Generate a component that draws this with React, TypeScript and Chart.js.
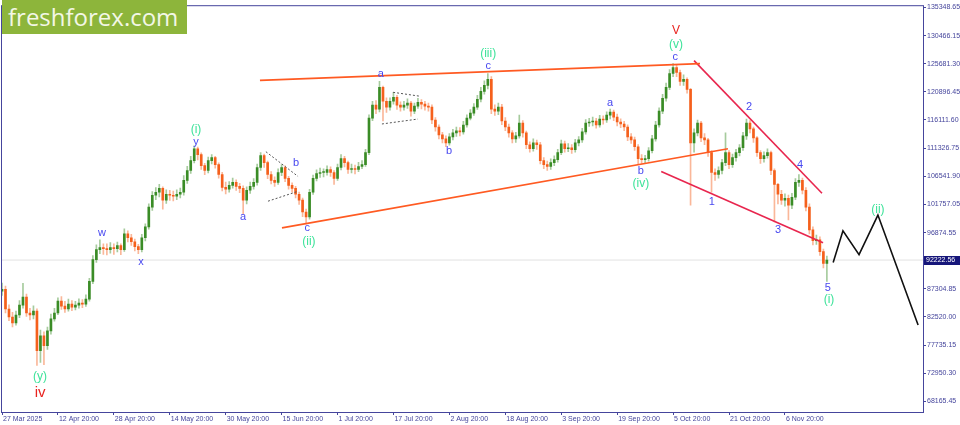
import React, { useEffect, useRef } from "react";
import { Chart, registerables } from "chart.js";
Chart.register(...registerables);

// ---- data (daily candles from 27 Mar 2025 20:00, x = days) ----
const firstOpen = 86900;
const closes = [
  87240, 83870, 82510, 81500, 82850, 84540, 85890, 83190, 82850, 83530,
  76780, 79310, 77620, 80150, 82180, 83190, 85220, 84370, 83870, 84710,
  84200, 84540, 84880, 84710, 85550, 88590, 92300, 93990, 94330, 94160,
  93990, 94330, 94160, 94670, 93990, 96690, 96020, 95340, 94500, 93990,
  96020, 97880, 101250, 103280, 103780, 104460, 102430, 103450, 103280, 103110,
  103450, 103780, 105810, 107500, 109190, 111210, 110200, 108340, 107500, 109190,
  109690, 108510, 106820, 104630, 104290, 104970, 105470, 104800, 104460, 102430,
  104120, 104800, 105470, 108000, 110030, 108850, 106820, 105810, 105470, 107160,
  108000, 106150, 104970, 104460, 103450, 102430, 100410, 99560, 103780, 106150,
  106990, 107160, 107160, 107670, 107160, 106150, 108000, 109520, 108850, 107670,
  107830, 107670, 108170, 108510, 110540, 116440, 118640, 117960, 121680, 119310,
  118300, 119310, 119990, 118640, 118300, 118640, 118980, 117630, 118470, 119140,
  118810, 118470, 118300, 116110, 114920, 113570, 112900, 112220, 113240, 113910,
  114250, 114080, 115260, 116440, 117290, 118300, 119650, 121000, 122010, 123030,
  117960, 117630, 118300, 115940, 114920, 113910, 112900, 113400, 115600, 113910,
  111880, 111210, 112220, 111880, 109190, 108510, 108170, 108850, 109350, 110540,
  112050, 111210, 111380, 111040, 112220, 112730, 114080, 115600, 115770, 115940,
  115260, 116270, 116110, 116950, 117460, 116610, 115770, 115430, 114920, 113240,
  112730, 111550, 109520, 109350, 109520, 110870, 112900, 115260, 117630, 119820,
  121680, 124040, 125050, 124210, 122690, 123030, 121340, 112220, 113910, 115600,
  113070, 112730, 110540, 107160, 106820, 107500, 108850, 110540, 108510, 109690,
  110540, 111380, 113400, 115600, 114590, 113070, 110540, 109520, 110030, 110540,
  107500, 105130, 103450, 102430, 102770, 101590, 102940, 105470, 105810, 104120,
  101250, 97370, 95510, 95680, 93660, 91630, 92222.56,
];
const highs = [
  88300, 87800, 84600, 83300, 83500, 85300, 88250, 86400, 84000, 84400,
  83900, 80300, 80000, 80800, 83000, 84000, 85800, 86000, 85200, 85550,
  85300, 85200, 85600, 85500, 86300, 89100, 93000, 94800, 95680, 95000,
  95000, 95200, 95000, 95300, 95000, 97540, 97200, 96600, 95800, 94900,
  96600, 98400, 101800, 103900, 104600, 105130, 104700, 104200, 104100, 104000,
  104200, 104500, 106650, 108200, 109900, 111720, 111500, 110500, 108700, 109800,
  110200, 109900, 108800, 107200, 105500, 105600, 106200, 105900, 105300, 104900,
  104700, 105500, 106100, 108600, 110540, 110300, 109100, 107300, 106400, 107800,
  108510, 108300, 106500, 105400, 104800, 103800, 102800, 100900, 104300, 106700,
  107600, 107900, 107800, 108300, 108100, 107500, 108600, 110200, 109900, 109100,
  108600, 108400, 108900, 109200, 111100, 117000, 119300, 119400, 122690, 121900,
  119900, 119900, 120830, 120300, 119200, 119300, 119700, 119300, 119000, 119820,
  119600, 119300, 119000, 118700, 116500, 115300, 114000, 113400, 113800, 114500,
  114900, 114800, 115900, 117000, 117900, 118900, 120300, 121700, 122800, 124040,
  123500, 118700, 119000, 118800, 116500, 115400, 114300, 114000, 116950, 116000,
  114200, 112400, 112900, 112700, 112300, 109700, 109100, 109500, 110000, 111100,
  112700, 112500, 112100, 111900, 112800, 113300, 114700, 116200, 116400, 116600,
  116400, 116900, 116800, 117500, 117960, 117800, 117100, 116300, 115900, 115300,
  113800, 113200, 111900, 110200, 110100, 111400, 113500, 115900, 118200, 120500,
  122400, 124700, 125730, 125500, 124600, 123800, 123300, 121500, 114600, 116100,
  115900, 113800, 113000, 110900, 107800, 108100, 109400, 113910, 110900, 110300,
  111100, 111900, 114000, 116270, 116000, 114900, 113300, 110900, 110700, 111200,
  110800, 107800, 105300, 104100, 103500, 103300, 103600, 106100, 106820, 106200,
  104600, 101800, 97900, 96500, 96200, 94100, 92900,
];
const lows = [
  86200, 83200, 81900, 80800, 81100, 82400, 84000, 82600, 82000, 82200,
  74240, 74750, 74400, 77000, 79600, 81800, 82900, 83800, 83300, 83500,
  83600, 83700, 84000, 84100, 84300, 85200, 88200, 91800, 93300, 93200,
  93100, 93400, 93200, 93600, 93150, 93700, 95300, 94700, 93800, 93320,
  93600, 95500, 97500, 100700, 102500, 103000, 100920, 101900, 102400, 102300,
  102500, 102800, 103300, 105300, 107000, 108800, 109300, 107700, 106800, 107100,
  108600, 107900, 106200, 104000, 103500, 103800, 104500, 104100, 103700, 100070,
  101800, 103600, 104300, 105000, 107500, 108000, 106100, 105200, 104800, 105100,
  106600, 105600, 104300, 103800, 102800, 101700, 99600, 98380, 99200, 103400,
  105700, 106300, 106400, 106700, 106500, 105130, 105800, 107600, 108100, 107000,
  107100, 106900, 107300, 107800, 108200, 110200, 116000, 117200, 117500, 115940,
  117400, 117800, 118800, 117900, 117600, 117800, 118100, 116780, 117200, 118100,
  118000, 117800, 117600, 115500, 114200, 112900, 112200, 111550, 111800, 112700,
  113300, 113400, 113700, 114900, 116100, 116900, 117900, 119200, 120500, 121400,
  117200, 116900, 117000, 115300, 114300, 113200, 112200, 112300, 113000, 113200,
  111200, 110600, 110800, 111100, 108600, 107800, 107500, 107700, 108300, 108900,
  110200, 110600, 110700, 110400, 110600, 111700, 112300, 113700, 115000, 115100,
  114700, 114900, 115400, 115700, 116300, 116000, 115100, 114800, 114300, 112600,
  112100, 110900, 108510, 108700, 108800, 109100, 110500, 112500, 114900, 117200,
  119300, 121300, 123500, 123500, 122000, 122000, 120700, 101590, 110600, 113400,
  112400, 111900, 109900, 103780, 105800, 106200, 106900, 108300, 107800, 108000,
  109100, 110000, 110900, 112800, 113900, 112300, 109900, 108700, 108900, 109600,
  106800, 98720, 101800, 101700, 101400, 99060, 101000, 102500, 104800, 103500,
  100600, 96700, 94800, 94900, 93000, 90900, 88590,
];
const lastPrice = 92222.56;

const xTickDays = [0, 16, 32, 48, 64, 80, 96, 112, 128, 144, 160, 176, 192, 208, 224];
const xTickLabels = [
  "27 Mar 2025", "12 Apr 20:00", "28 Apr 20:00", "14 May 20:00", "30 May 20:00",
  "15 Jun 20:00", "1 Jul 20:00", "17 Jul 20:00", "2 Aug 20:00", "18 Aug 20:00",
  "3 Sep 20:00", "19 Sep 20:00", "5 Oct 20:00", "21 Oct 20:00", "6 Nov 20:00",
];
const yTickValues = [
  135348.65, 130466.15, 125681.3, 120896.45, 116111.6, 111326.75, 106541.9,
  101757.05, 96874.55, 87304.85, 82520.0, 77735.15, 72950.3, 68165.45,
];

// wave labels: text, day, price, style
const waveLabels = [
  { t: "w", d: 28.6, p: 96860, s: "b" },
  { t: "x", d: 39.8, p: 91970, s: "b" },
  { t: "y", d: 55.5, p: 112390, s: "b" },
  { t: "a", d: 69.0, p: 99560, s: "b" },
  { t: "b", d: 84.1, p: 108850, s: "b" },
  { t: "c", d: 87.3, p: 97710, s: "b" },
  { t: "a", d: 108.4, p: 124040, s: "b" },
  { t: "b", d: 127.9, p: 110870, s: "b" },
  { t: "c", d: 139.1, p: 125390, s: "b" },
  { t: "a", d: 174.0, p: 118980, s: "b" },
  { t: "b", d: 182.8, p: 107500, s: "b" },
  { t: "c", d: 192.6, p: 126910, s: "b" },
  { t: "1", d: 203.1, p: 102100, s: "b" },
  { t: "2", d: 213.7, p: 118300, s: "b" },
  { t: "3", d: 222.0, p: 97370, s: "b" },
  { t: "4", d: 228.3, p: 108510, s: "b" },
  { t: "5", d: 236.3, p: 87410, s: "b" },
  { t: "(y)", d: 10.9, p: 72390, s: "g" },
  { t: "(i)", d: 55.5, p: 114420, s: "g" },
  { t: "(ii)", d: 87.8, p: 95340, s: "g" },
  { t: "(iii)", d: 139.1, p: 127420, s: "g" },
  { t: "(iv)", d: 182.8, p: 105300, s: "g" },
  { t: "(v)", d: 192.8, p: 128930, s: "g" },
  { t: "(i)", d: 236.6, p: 85380, s: "g" },
  { t: "(ii)", d: 250.6, p: 100750, s: "g" },
  { t: "iv", d: 10.9, p: 69520, s: "r" },
  { t: "V", d: 192.8, p: 131300, s: "R" },
];

// drawn lines: [day, price] pairs
const upperOrange = [[73.8, 122860], [199.7, 125730]];
const lowerOrange = [[80.1, 97710], [207.7, 111210]];
const redUpper = [[198.0, 126230], [234.6, 103610]];
const redLower = [[188.6, 107330], [234.9, 95170]];
const projection = [[237.8, 91800], [240.6, 97200], [245.2, 93150], [250.6, 99900], [262.1, 81160]];
const triangleA1 = [[75.5, 110700], [84.7, 106480]];
const triangleA2 = [[76.1, 102260], [84.7, 103950]];
const triangleB1 = [[111.9, 120830], [119.6, 120160]];
const triangleB2 = [[108.7, 115430], [119.0, 116270]];

const AXIS = "#45459c";
const BULL = "#3a8c26";
const BEAR = "#f5601c";
const BULL_W = "rgba(58,140,38,0.45)";
const BEAR_W = "rgba(245,96,28,0.45)";

export default function App() {
  const ref = useRef<HTMLCanvasElement>(null);
  useEffect(() => {
    document.body.style.margin = "0";
    const canvas = ref.current;
    if (!canvas) return;
    Chart.defaults.font.family = "'Liberation Sans', Arial, sans-serif";
    const opens = closes.map((c, i) => (i === 0 ? firstOpen : closes[i - 1]));
    const bull = closes.map((c, i) => c >= opens[i]);
    const bodies = closes.map((c, i) => ({ x: i, y: [opens[i], c] }));
    const wicks = closes.map((c, i) => ({
      x: i,
      y: [Math.min(lows[i], opens[i], c), Math.max(highs[i], opens[i], c)],
    }));
    const pts = (a: number[][]) => a.map(([d, p]) => ({ x: d, y: p }));
    const lineDs = (a: number[][], color: string, w: number, dash: number[] = []) => ({
      type: "line" as const,
      data: pts(a),
      borderColor: color,
      borderWidth: w,
      borderDash: dash,
      pointRadius: 0,
      fill: false,
      tension: 0,
      order: 0,
    });

    const overlay = {
      id: "overlay",
      afterDatasetsDraw(chart: any) {
        const { ctx, scales } = chart;
        const xs = scales.x, ys = scales.y;
        ctx.save();
        ctx.textAlign = "center";
        ctx.textBaseline = "middle";
        for (const l of waveLabels) {
          if (l.s === "b") { ctx.font = "11px 'Liberation Sans'"; ctx.fillStyle = "#4848f0"; }
          else if (l.s === "g") { ctx.font = "12px 'Liberation Sans'"; ctx.fillStyle = "#3ee39a"; }
          else if (l.s === "r") { ctx.font = "15px 'Liberation Sans'"; ctx.fillStyle = "#e8231f"; }
          else { ctx.font = "12px 'Liberation Sans'"; ctx.fillStyle = "#e8231f"; }
          ctx.fillText(l.t, xs.getPixelForValue(l.d), ys.getPixelForValue(l.p));
        }
        ctx.restore();
      },
      afterDraw(chart: any) {
        const { ctx, chartArea: a, scales } = chart;
        ctx.save();
        ctx.strokeStyle = AXIS;
        ctx.lineWidth = 1;
        ctx.strokeRect(a.left - 0.5, a.top + 0.5, a.right - a.left + 1, a.bottom - a.top);
        const py = Math.round(scales.y.getPixelForValue(lastPrice));
        ctx.fillStyle = "#16167a";
        ctx.fillRect(a.right + 1, py - 4, 40, 9);
        ctx.fillStyle = "#ffffff";
        ctx.font = "7px 'Liberation Sans'";
        ctx.textAlign = "left";
        ctx.textBaseline = "middle";
        ctx.fillText(lastPrice.toFixed(2), a.right + 3, py + 0.5);
        ctx.restore();
      },
    };

    const chart = new Chart(canvas, {
      type: "bar",
      data: {
        datasets: [
          lineDs(upperOrange, "#ff5a22", 1.6),
          lineDs(lowerOrange, "#ff5a22", 1.6),
          lineDs(redUpper, "#e8264e", 1.6),
          lineDs(redLower, "#e8264e", 1.6),
          lineDs(projection, "#111111", 1.6),
          lineDs(triangleA1, "#555555", 1, [2, 2]),
          lineDs(triangleA2, "#555555", 1, [2, 2]),
          lineDs(triangleB1, "#555555", 1, [2, 2]),
          lineDs(triangleB2, "#555555", 1, [2, 2]),
          {
            type: "bar" as const,
            data: bodies as any,
            backgroundColor: bull.map((b) => (b ? BULL : BEAR)),
            barThickness: 2,
            minBarLength: 1,
            grouped: false,
            borderWidth: 0,
            order: 2,
          },
          {
            type: "bar" as const,
            data: wicks as any,
            backgroundColor: bull.map((b) => (b ? BULL_W : BEAR_W)),
            barThickness: 1,
            grouped: false,
            borderWidth: 0,
            order: 3,
          },
          {
            type: "line" as const,
            data: [{ x: 0, y: lastPrice }, { x: 263.5, y: lastPrice }],
            borderColor: "#e2e2e2",
            borderWidth: 1,
            pointRadius: 0,
            order: 10,
          },
        ] as any,
      },
      options: {
        responsive: false,
        animation: false,
        devicePixelRatio: 1,
        layout: { padding: { left: 2, top: 1, right: 0, bottom: 0 } },
        plugins: { legend: { display: false }, tooltip: { enabled: false } },
        scales: {
          x: {
            type: "linear",
            min: 0,
            max: 263.5,
            offset: false,
            border: { display: false },
            grid: { display: true, drawOnChartArea: false, drawTicks: true, tickLength: 3, color: AXIS, offset: false },
            ticks: {
              autoSkip: false,
              maxRotation: 0,
              align: "start",
              padding: 0,
              labelOffset: 1,
              color: AXIS,
              font: { size: 7 },
              callback: (_v: any, i: number) => xTickLabels[i],
            },
            afterBuildTicks: (s: any) => { s.ticks = xTickDays.map((v) => ({ value: v })); },
            afterFit: (s: any) => { s.height = 13; },
          },
          y: {
            type: "linear",
            position: "right",
            min: 66309,
            max: 135686,
            border: { display: false },
            grid: { display: true, drawOnChartArea: false, drawTicks: true, tickLength: 3, color: AXIS },
            ticks: {
              padding: 1,
              color: AXIS,
              font: { size: 7 },
              callback: (v: any) => Number(v).toFixed(2),
            },
            afterBuildTicks: (s: any) => { s.ticks = yTickValues.map((v) => ({ value: v })); },
            afterFit: (s: any) => { s.width = 37; },
          },
        },
      } as any,
      plugins: [overlay],
    });
    return () => chart.destroy();
  }, []);

  return (
    <div style={{ position: "fixed", left: 0, top: 0, width: 960, height: 425, background: "#ffffff", overflow: "hidden" }}>
      <canvas ref={ref} width={960} height={425} style={{ display: "block", width: 960, height: 425 }} />
      <div
        style={{
          position: "absolute", left: 2, top: 0, width: 185, height: 34,
          background: "#8db53b", color: "#f3f7e6", fontFamily: "'Open Sans', sans-serif",
          fontSize: 24, lineHeight: "33px", paddingLeft: 6, boxSizing: "border-box", whiteSpace: "nowrap",
        }}
      >
        freshforex.com
      </div>
    </div>
  );
}
